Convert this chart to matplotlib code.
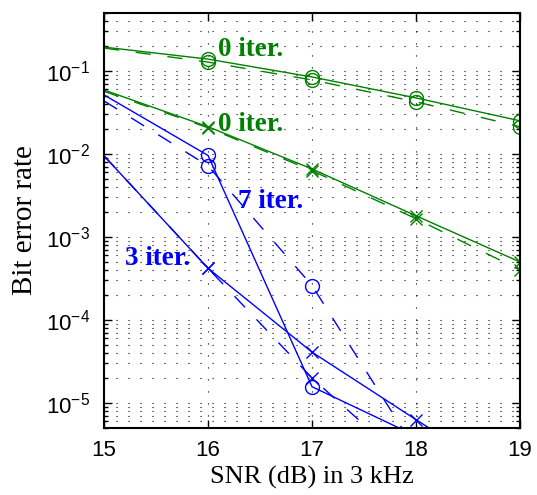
import numpy as np
import matplotlib
matplotlib.use("Agg")
import matplotlib.pyplot as plt
from matplotlib.ticker import LogLocator, NullFormatter, FixedLocator


# ----------------------------
# Global plotting style
# ----------------------------
plt.rcParams["font.family"] = "Liberation Sans"
plt.rcParams["mathtext.fontset"] = "custom"
plt.rcParams["mathtext.rm"] = "Liberation Sans"
plt.rcParams["mathtext.it"] = "Liberation Sans"
plt.rcParams["mathtext.default"] = "regular"

GREEN = "#008000"
BLUE = "#0000ff"

# SNR (dB) in 3 kHz
snr = [15, 16, 17, 18, 19]

# 0 iterations, circle markers
ber_0it_o_solid = [0.194, 0.139, 0.0847, 0.0474, 0.0251]
ber_0it_o_dash = [0.189, 0.128, 0.078, 0.0425, 0.0213]

# 0 iterations, cross markers
ber_0it_x_solid = [0.059, 0.0213, 0.0066, 0.0018, 5.0e-4]
ber_0it_x_dash = [0.057, 0.0207, 0.0063, 0.00166, 4.0e-4]

# 7 iterations, circle markers
snr_7it = [15, 16, 17, 18]
ber_7it_solid = [0.0515, 0.0096, 1.57e-5, 4.0e-6]
ber_7it_dash = [0.0436, 0.0072, 2.6e-4, 2.7e-6]

# 3 iterations, cross markers
snr_3it_solid = [15, 16, 17, 18, 19]
ber_3it_solid = [0.0095, 4.2e-4, 4.1e-5, 6.3e-6, 1.0e-6]
snr_3it_dash = [15, 16, 17, 18]
ber_3it_dash = [0.0095, 4.2e-4, 2.0e-5, 1.5e-6]

labels = [
    ("0 iter.", 16.10, 0.151, GREEN),
    ("0 iter.", 16.10, 0.019, GREEN),
    ("7 iter.", 16.29, 0.00226, BLUE),
    ("3 iter.", 15.20, 4.57e-4, BLUE),
]


fig = plt.figure(figsize=(5.37, 4.95), dpi=100)
ax = fig.add_axes([0.1937, 0.1354, 0.7747, 0.8384])

dash = (0, (11, 12))
lw = 1.0
skip_first = slice(1, None)


def curve(x, y, color, marker, ls):
    ax.plot(x, y, color=color, lw=lw, linestyle=ls, marker=marker,
            markersize=10 if marker == "o" else 9, markerfacecolor="none",
            markeredgecolor=color, markeredgewidth=1.0, markevery=skip_first)


curve(snr, ber_0it_o_solid, GREEN, "o", "-")
curve(snr, ber_0it_o_dash, GREEN, "o", dash)
curve(snr, ber_0it_x_solid, GREEN, "x", "-")
curve(snr, ber_0it_x_dash, GREEN, "x", dash)
curve(snr_7it, ber_7it_solid, BLUE, "o", "-")
curve(snr_7it, ber_7it_dash, BLUE, "o", dash)
curve(snr_3it_solid, ber_3it_solid, BLUE, "x", "-")
curve(snr_3it_dash, ber_3it_dash, BLUE, "x", dash)

for txt, x, y, c in labels:
    ax.text(x, y, txt, color=c, fontsize=19.5, fontweight="bold",
            family="Liberation Serif", ha="left", va="baseline")

ax.set_yscale("log")
ax.set_xlim(15, 19)
ax.set_ylim(5e-6, 0.5)

ax.xaxis.set_major_locator(FixedLocator(snr))
ax.yaxis.set_major_locator(FixedLocator([1e-5, 1e-4, 1e-3, 1e-2, 1e-1]))
ax.set_yticklabels([r"$10^{-5}$", r"$10^{-4}$", r"$10^{-3}$",
                    r"$10^{-2}$", r"$10^{-1}$"])
ax.yaxis.set_minor_locator(LogLocator(base=10, subs=np.arange(2, 10), numticks=20))
ax.yaxis.set_minor_formatter(NullFormatter())

grid_ls = (0, (1, 9.8))
ax.grid(True, which="major", axis="both", color="black", lw=0.8, linestyle=grid_ls)
ax.grid(True, which="minor", axis="y", color="black", lw=0.8, linestyle=grid_ls)

ax.tick_params(axis="both", which="both", direction="in", top=True, right=True,
               labelsize=16, width=1.0)
ax.tick_params(axis="both", which="major", length=6)
ax.tick_params(axis="both", which="minor", length=3)
ax.tick_params(axis="x", pad=9)
ax.tick_params(axis="y", pad=10)
for s in ax.spines.values():
    s.set_linewidth(1.5)

ax.set_xlabel("SNR (dB) in 3 kHz", family="Liberation Serif", fontsize=19, labelpad=3)
ax.set_ylabel("Bit error rate", family="Liberation Serif", fontsize=21, labelpad=6)

plt.savefig("out.png", dpi=100)
plt.close(fig)
